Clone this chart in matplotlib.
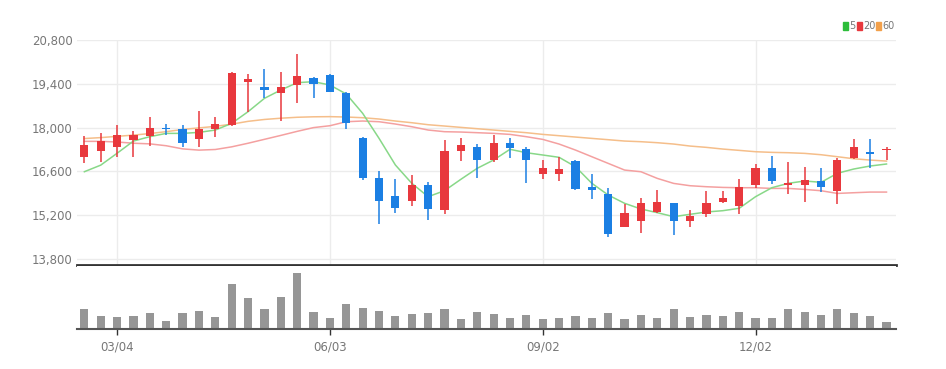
"""Weekly candlestick chart with 5/20/60 moving averages and volume panel."""

import numpy as np
import pandas as pd
import matplotlib
matplotlib.use("Agg")
import matplotlib.pyplot as plt
from matplotlib.patches import Rectangle

# weekly candles, 2024-02-19 .. 2025-01-27
dates = pd.date_range("2024-02-19", periods=50, freq="W-MON")
tick_dates = ["2024-03-04", "2024-06-03", "2024-09-02", "2024-12-02"]

opens = [17050, 17260, 17390, 17600, 17740, 18000, 17940, 17620, 17950, 18080,
         19470, 19290, 19120, 19360, 19600, 19680, 19120, 17680, 16400, 15820,
         15650, 16170, 15370, 17260, 17390, 16960, 17500, 17300, 16510, 16510,
         16940, 16110, 15870, 14830, 15010, 15310, 15580, 15010, 15240, 15610,
         15490, 16170, 16700, 16170, 16170, 16300, 15980, 17040, 17230, 17270]
highs = [17720, 17840, 18090, 17900, 18350, 18130, 18070, 18540, 18350, 19780,
         19700, 19860, 19770, 20350, 19630, 19700, 19130, 17710, 16610, 16350,
         16490, 16270, 17600, 17680, 17470, 17760, 17680, 17390, 16960, 17070,
         16970, 16510, 16060, 15550, 15740, 16000, 15600, 15370, 15980, 15980,
         16350, 16830, 17090, 16910, 16730, 16700, 17040, 17630, 17630, 17390]
lows = [16880, 16910, 17070, 17050, 17410, 17760, 17390, 17390, 17710, 18050,
        18510, 18935, 18210, 18800, 18960, 19140, 17970, 16310, 14920, 15260,
        15500, 15050, 15240, 16940, 16400, 16910, 17040, 16220, 16350, 16290,
        16020, 15710, 14490, 14820, 14620, 15280, 14570, 14810, 15150, 15580,
        15240, 16060, 16200, 15870, 15630, 15930, 15550, 17000, 16700, 16960]
closes = [17440, 17580, 17770, 17750, 17975, 17950, 17500, 17940, 18100, 19750,
          19550, 19200, 19290, 19650, 19400, 19150, 18160, 16400, 15650, 15440,
          16170, 15390, 17250, 17440, 16960, 17500, 17340, 16960, 16700, 16670,
          16030, 16000, 14600, 15280, 15580, 15630, 15010, 15190, 15600, 15760,
          16110, 16720, 16290, 16220, 16330, 16090, 16960, 17370, 17160, 17310]
volume = [57, 37, 33, 37, 47, 23, 47, 53, 33, 133,
          91, 59, 94, 165, 48, 31, 74, 61, 53, 37,
          42, 47, 58, 29, 48, 42, 31, 39, 29, 31,
          37, 31, 47, 29, 39, 31, 58, 33, 39, 37,
          49, 31, 31, 58, 48, 39, 58, 47, 36, 18]

ma5 = [16590, 16800, 17180, 17570, 17710, 17815, 17815, 17847, 17922, 18136,
       18509, 18935, 19202, 19436, 19468, 19361, 19073, 18456, 17657, 16804,
       16219, 15791, 15983, 16347, 16699, 16964, 17306, 17197, 17124, 17050,
       16750, 16219, 15845, 15580, 15398, 15280, 15152, 15228, 15302, 15344,
       15420, 15791, 16079, 16219, 16293, 16251, 16539, 16676, 16772, 16836]
ma20 = [17560, 17560, 17540, 17500, 17480, 17420, 17320, 17280, 17300, 17385,
        17500, 17625, 17750, 17880, 18000, 18060, 18188, 18210, 18188, 18114,
        18028, 17922, 17869, 17858, 17837, 17815, 17783, 17709, 17623, 17474,
        17282, 17069, 16856, 16643, 16589, 16376, 16216, 16142, 16110, 16088,
        16078, 16078, 16056, 16056, 16024, 15982, 15896, 15918, 15939, 15939]
ma60 = [17650, 17680, 17720, 17760, 17810, 17870, 17940, 17990, 18040, 18110,
        18200, 18260, 18300, 18330, 18345, 18350, 18338, 18316, 18274, 18210,
        18156, 18092, 18050, 18007, 17964, 17922, 17879, 17837, 17783, 17741,
        17698, 17655, 17613, 17570, 17549, 17517, 17474, 17410, 17368, 17314,
        17272, 17229, 17208, 17197, 17176, 17133, 17069, 17005, 16962, 16930]

price_ticks = [13800, 15200, 16600, 18000, 19400, 20800]

UP = "#e8383d"
DOWN = "#1b7fe3"
MA_COLORS = {"5": "#88d888", "20": "#f4a0a0", "60": "#f5be8a"}
LEG_COLORS = {"5": "#2dbd3a", "20": "#e8383d", "60": "#f2a04a"}
TXT = "#777777"
FONT = ["Liberation Sans Narrow", "DejaVu Sans"]

plt.rcParams["font.family"] = FONT

W, H = 946, 369
fig = plt.figure(figsize=(W / 100, H / 100), dpi=100)

x0, x1 = 77, 896
ax = fig.add_axes([x0 / W, (H - 265) / H, (x1 - x0) / W, (265 - 40) / H])
axv = fig.add_axes([x0 / W, (H - 328.5) / H, (x1 - x0) / W, (328.5 - 266) / H])

x = np.arange(len(dates))
xlim = (-0.45, 49.58)

# price panel
ax.set_xlim(*xlim)
ax.set_ylim(13608, 20800)
ax.set_yticks(price_ticks)
ax.set_yticklabels([f"{v:,}" for v in price_ticks], fontsize=8.5, color=TXT)
ax.tick_params(axis="y", length=0, pad=3)
ax.set_xticks([])
for v in price_ticks:
    ax.axhline(v, color="#ececec", lw=1, zorder=0)
tick_idx = [int(np.where(dates == pd.Timestamp(d))[0][0]) for d in tick_dates]
for i in tick_idx:
    ax.axvline(i, color="#ececec", lw=1, zorder=0)
for s in ("top", "left", "right"):
    ax.spines[s].set_visible(False)
ax.spines["bottom"].set_color("#333333")
ax.spines["bottom"].set_linewidth(2)

ax.plot(x, ma60, color=MA_COLORS["60"], lw=1.1, zorder=2)
ax.plot(x, ma20, color=MA_COLORS["20"], lw=1.1, zorder=2)
ax.plot(x, ma5, color=MA_COLORS["5"], lw=1.1, zorder=2)

o = np.array(opens); c = np.array(closes)
colors = [UP if ci >= oi else DOWN for oi, ci in zip(o, c)]
ax.vlines(x, lows, highs, colors=colors, lw=1.1, zorder=3)
body_h = np.maximum(np.abs(c - o), 35)
ax.bar(x, body_h, bottom=np.minimum(o, c), width=0.5, color=colors, zorder=4)

# volume panel
axv.set_xlim(*xlim)
axv.set_ylim(0, 187)
axv.bar(x, volume, width=0.5, color="#969696", zorder=2)
axv.set_yticks([])
axv.set_xticks(tick_idx)
axv.set_xticklabels([dates[i].strftime("%m/%d") for i in tick_idx], fontsize=8.5, color=TXT)
axv.tick_params(axis="x", length=4, width=1, color="#333333", pad=5)
for s in ("top", "left", "right"):
    axv.spines[s].set_visible(False)
axv.spines["bottom"].set_color("#555555")
axv.spines["bottom"].set_linewidth(1.5)

# legend (small squares + labels, top right)
leg = [("5", 843, 849), ("20", 857, 863), ("60", 876, 882)]
for lab, sx, tx in leg:
    fig.patches.append(Rectangle((sx / W, (H - 30) / H), 4.5 / W, 8.5 / H,
                                 transform=fig.transFigure, color=LEG_COLORS[lab]))
    fig.text(tx / W, (H - 26) / H, lab, fontsize=7, color=TXT, va="center", ha="left")

fig.savefig("out.png", dpi=100)
